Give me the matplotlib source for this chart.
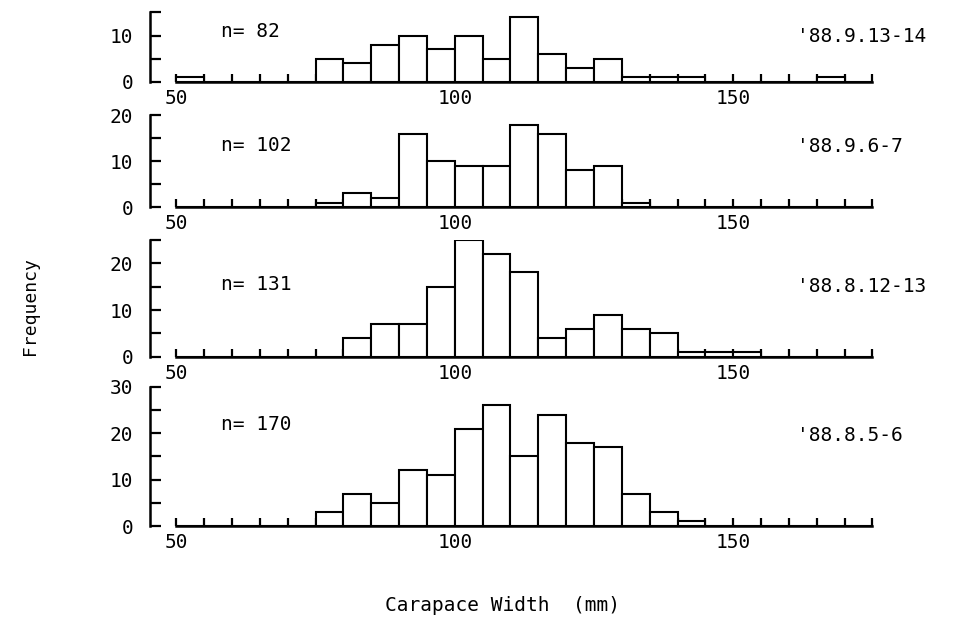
"""Carapace width frequency distributions, four sampling dates"""

import numpy as np
import matplotlib
matplotlib.use("Agg")
import matplotlib.pyplot as plt
from matplotlib.ticker import MultipleLocator

plt.rcParams["font.family"] = ["DejaVu Sans Mono", "DejaVu Sans"]

# bin left edges, 5 mm classes from 50 to 175
bin_edges = np.arange(50, 175, 5)

# counts per class, top panel first
counts_0913 = [1, 0, 0, 0, 0, 5, 4, 8, 10, 7, 10, 5, 14, 6, 3, 5, 1, 1, 1, 0, 0, 0, 0, 1, 0]
counts_0906 = [0, 0, 0, 0, 0, 1, 3, 2, 16, 10, 9, 9, 18, 16, 8, 9, 1, 0, 0, 0, 0, 0, 0, 0, 0]
counts_0812 = [0, 0, 0, 0, 0, 0, 4, 7, 7, 15, 25, 22, 18, 4, 6, 9, 6, 5, 1, 1, 1, 0, 0, 0, 0]
counts_0805 = [0, 0, 0, 0, 0, 3, 7, 5, 12, 11, 21, 26, 15, 24, 18, 17, 7, 3, 1, 0, 0, 0, 0, 0, 0]

panel_counts = [counts_0913, counts_0906, counts_0812, counts_0805]
panel_n = [82, 102, 131, 170]
panel_dates = ["'88.9.13-14", "'88.9.6-7", "'88.8.12-13", "'88.8.5-6"]
panel_ymax = [15, 20, 25, 30]

# axes boxes in figure fraction (left, bottom, width, height)
LEFT, WIDTH = 0.154, 0.742
BOXES = [
    (LEFT, 0.869, WIDTH, 0.111),
    (LEFT, 0.668, WIDTH, 0.147),
    (LEFT, 0.428, WIDTH, 0.188),
    (LEFT, 0.157, WIDTH, 0.223),
]
N_YPOS = [0.72, 0.67, 0.62, 0.73]
DATE_YPOS = [0.66, 0.66, 0.60, 0.65]
FS = 14

fig = plt.figure(figsize=(9.75, 6.24), dpi=100)

for box, counts, n, date, ymax, ny, dy in zip(
    BOXES, panel_counts, panel_n, panel_dates, panel_ymax, N_YPOS, DATE_YPOS
):
    ax = fig.add_axes(box)
    ax.bar(bin_edges, counts, width=5, align="edge",
           facecolor="white", edgecolor="black", linewidth=1.5, zorder=2)

    ax.set_xlim(45.3, 175.2)
    ax.set_ylim(0, ymax)

    # plotter-style frame: left axis and a detached x axis starting at 50
    for side in ["top", "right"]:
        ax.spines[side].set_visible(False)
    ax.spines["left"].set_bounds(0, ymax)
    ax.spines["bottom"].set_bounds(50, 175)
    ax.spines["left"].set_linewidth(1.8)
    ax.spines["bottom"].set_linewidth(1.8)

    ax.xaxis.set_major_locator(MultipleLocator(50))
    ax.xaxis.set_minor_locator(MultipleLocator(5))
    ax.yaxis.set_major_locator(MultipleLocator(10))
    ax.yaxis.set_minor_locator(MultipleLocator(5))
    ax.tick_params(axis="both", which="both", direction="in", width=1.6)
    ax.tick_params(axis="x", which="both", length=6, pad=5, labelsize=FS)
    ax.tick_params(axis="y", which="both", length=8, pad=12, labelsize=FS)
    ax.set_xticks([50, 100, 150])

    ax.text(58, ny * ymax, f"n= {n}", fontsize=FS, va="center", ha="left")
    ax.text(161.5, dy * ymax, date, fontsize=FS, va="center", ha="left",
            clip_on=False)

fig.text(0.031, 0.51, "Frequency", rotation=90, ha="center", va="center",
         fontsize=13)
fig.text(0.515, 0.029, "Carapace Width  (mm)", ha="center", va="center",
         fontsize=FS)

fig.savefig("out.png", dpi=100)
